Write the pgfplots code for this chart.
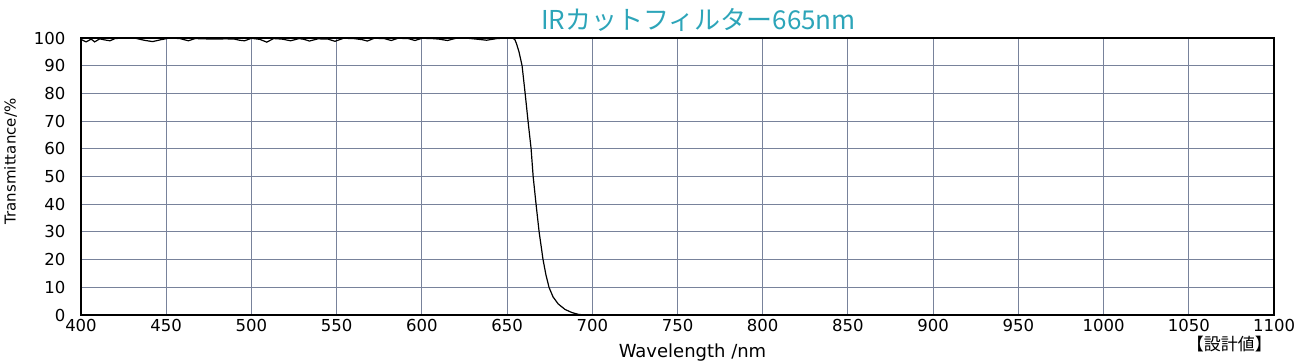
\documentclass[border=0pt]{standalone}
\usepackage{pgfplots}
\pgfplotsset{compat=1.18}
\usepackage{fontspec}
\setmainfont{DejaVu Sans}
\newfontfamily\cjk{Noto Sans CJK JP}
\definecolor{titlec}{RGB}{45,165,185}
\definecolor{gridc}{RGB}{120,130,155}
\begin{document}
\begin{tikzpicture}
\useasboundingbox (-81pt,-45pt) rectangle (1219pt,315pt);
\begin{axis}[
  at={(0pt,0pt)}, anchor=south west,
  scale only axis, width=1193pt, height=277pt,
  xmin=400, xmax=1100, ymin=0, ymax=100,
  xtick={400,450,...,1100}, ytick={0,10,...,100},
  major tick length=0pt,
  grid=major,
  grid style={gridc, line width=0.9pt},
  axis line style={black, line width=1.6pt},
  tick label style={font=\fontsize{16.5}{16.5}\selectfont},
  /pgf/number format/assume math mode=true,
  /pgf/number format/set thousands separator={},
  xticklabel style={yshift=-1pt},
  yticklabel style={xshift=-12pt},
  xlabel={Wavelength /nm},
  ylabel={Transmittance/\%},
  xlabel style={font=\fontsize{18}{18}\selectfont, yshift=-5pt, xshift=15pt},
  ylabel style={font=\fontsize{15}{15}\selectfont, yshift=10pt, xshift=15pt},
  title={\cjk IRカットフィルター665nm},
  title style={font=\fontsize{26}{26}\selectfont, text=titlec, yshift=-3pt, xshift=21pt},
  clip=false,
]
\addplot[black, line width=1.2pt] coordinates {
(400,99.5)(403,98.6)(406,99.6)(408,98.6)(411,99.7)(414,99.3)(417,99.0)(420,99.8)(425,100)(432,99.9)(437,99.2)(442,98.7)(447,99.4)(452,100)(458,99.8)(463,99.0)(467,99.8)(472,99.7)(478,99.6)(485,99.7)(490,99.6)(493,99.2)(496,99.0)(500,99.9)(505,99.5)(509,98.5)(513,99.8)(518,99.6)(523,99.0)(528,99.8)(531,99.5)(534,98.9)(539,99.7)(545,99.6)(549,98.8)(554,99.9)(560,99.8)(565,99.4)(568,98.9)(572,99.9)(578,99.8)(582,99.1)(586,99.9)(592,99.8)(596,99.1)(600,99.9)(606,99.8)(610,99.6)(615,99.1)(620,99.9)(627,99.9)(632,99.6)(638,99.2)(644,99.8)(650,100)(653,100)(654.5,99.5)(655.5,98)(657,95)(658.8,90)(660.6,80)(662.3,70)(664.1,60)(665.3,50)(667,40)(668.8,30)(671.1,20)(672.8,14.5)(674.6,10)(677,6.5)(680,4)(684,2)(688,0.9)(692,0.2)(696,0)(1100,0)
};
\node[anchor=north east, font=\cjk\fontsize{17}{17}\selectfont, inner sep=0pt] at ([xshift=-2pt]rel axis cs:1.0,-0.075) {【設計値】};
\end{axis}
\end{tikzpicture}
\end{document}
